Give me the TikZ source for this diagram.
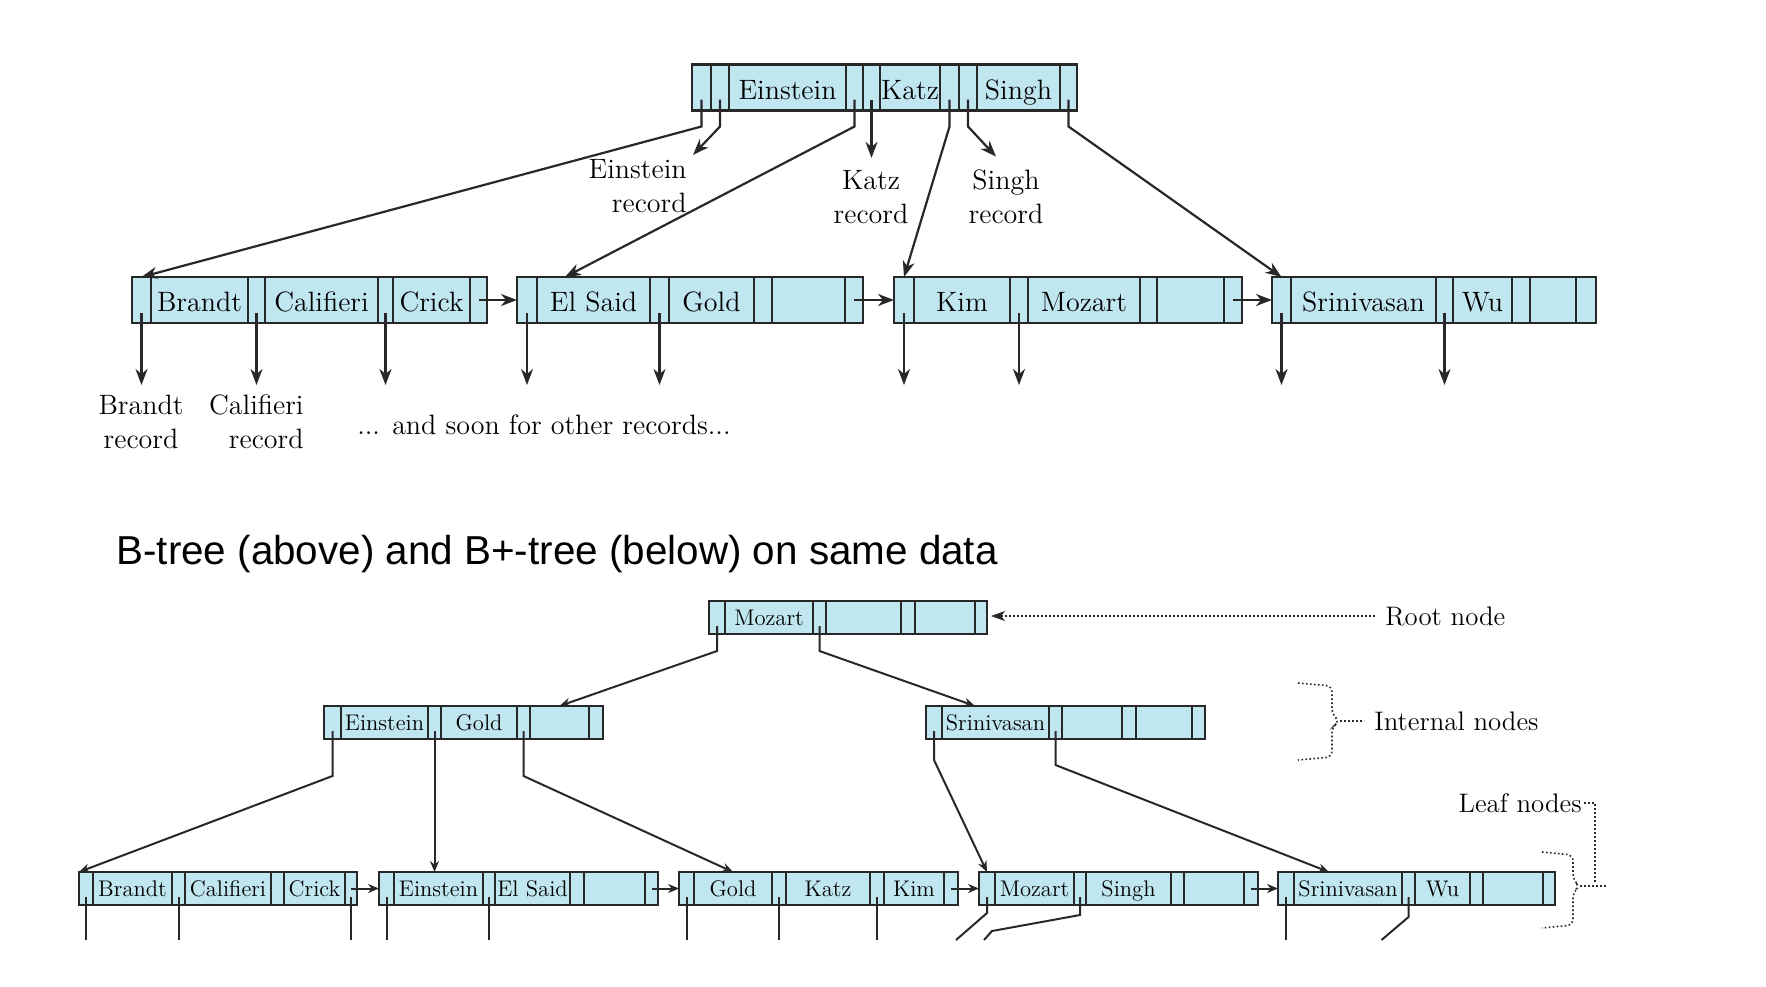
\documentclass[tikz,border=0pt]{standalone}
\usepackage{fontspec}
\newfontfamily\titlefont{Liberation Sans}
\usetikzlibrary{arrows.meta, positioning}
\definecolor{cellblue}{RGB}{192,230,240}
\definecolor{linegray}{RGB}{40,40,40}

\newcommand{\record}[4][]{%
  \coordinate (#2-0) at #3;
  \foreach \w/\t [count=\i, remember=\i as \j (initially 0)] in {#4}
    \node[cell, #1, minimum width=\w*0.5pt, right=0pt of #2-\j] (#2-\i) {\t};
}

\begin{document}
\begin{tikzpicture}[
  x=0.5pt, y=-0.5pt,
  cell/.style={draw=linegray, fill=cellblue, inner sep=0pt, outer sep=0pt, text depth=0pt},
  bigcell/.style={line width=1.1pt, minimum height=23pt, text height=11.9pt,
                  font=\fontsize{14}{17}\selectfont},
  smallcell/.style={line width=1pt, minimum height=16.5pt, text height=7.7pt,
                    font=\fontsize{11.3}{13}\selectfont},
  ptr/.style={-{Stealth[length=8pt, width=6pt, inset=2.5pt]}, line width=1.1pt, draw=linegray},
  sptr/.style={-{Stealth[length=5.5pt, width=4.5pt, inset=1.8pt]}, line width=1pt, draw=linegray},
  wire/.style={line width=1pt, draw=linegray},
  lbl/.style={font=\fontsize{14}{17}\selectfont, align=center, inner sep=0pt},
  note/.style={font=\fontsize{13.4}{16}\selectfont, inner sep=0pt},
  dots/.style={line width=0.8pt, dash pattern=on 0.8pt off 1.2pt, draw=linegray}
]
  \path[use as bounding box] (0,0) rectangle (1766,986);

  \record[bigcell]{tr}{(692,87.5)}{19/{},18/{},117/Einstein,17/{},17/{},60/Katz,19/{},18/{},83/Singh,17/{}}
  \record[bigcell]{ta}{(132,300)}{19/{},97/Brandt,17/{},113/Califieri,15/{},77/Crick,17/{}}
  \record[bigcell]{tb}{(517,300)}{20/{},113/El Said,19/{},85/Gold,18/{},73/{},18/{}}
  \record[bigcell]{tc}{(894,300)}{20/{},96/Kim,18/{},112/Mozart,17/{},67/{},18/{}}
  \record[bigcell]{td}{(1272,300)}{19/{},145/Srinivasan,17/{},59/Wu,18/{},46/{},20/{}}

  \node[lbl, align=right, anchor=east] (erec) at (687,186) {Einstein\\record};
  \node[lbl] (krec) at (871,197) {Katz\\record};
  \node[lbl] (srec) at (1006,197) {Singh\\record};
  \node[lbl] (brec) at (141,422) {Brandt\\record};
  \node[lbl, align=right, anchor=east] (crec) at (304,422) {Califieri\\record};
  \node[lbl] (other) at (544,425) {... and soon for other records...};

  \draw[ptr] ([yshift=5.5pt]tr-1.south) -- ++(0,27) -- (ta-1.north);
  \draw[ptr] ([yshift=5.5pt]tr-2.south) -- ++(0,27) -- ([shift={(3pt,2pt)}]erec.north east);
  \draw[ptr] ([yshift=5.5pt]tr-4.south) -- ++(0,27) -- ([xshift=14pt]tb-2.north west);
  \draw[ptr, shorten >=6pt] ([yshift=5.5pt]tr-5.south) -- (tr-5.south |- krec.north);
  \draw[ptr] ([yshift=5.5pt]tr-7.south) -- ++(0,27) -- (tc-1.north);
  \draw[ptr] ([yshift=5.5pt]tr-8.south) -- ++(0,27) -- ([shift={(-5pt,6.5pt)}]srec.north);
  \draw[ptr] ([yshift=5.5pt]tr-10.south) -- ++(0,27) -- (td-1.north);

  \foreach \c in {ta-1,ta-3,ta-5,tb-1,tb-3,tc-1,tc-3,td-1,td-3}
    \draw[ptr] ([yshift=5pt]\c.south) -- ++(0,72);
  \foreach \a/\b in {ta/tb,tb/tc,tc/td}  \draw[ptr] (\a-7.center) -- (\b-1.west);

  \node[anchor=west, inner sep=0pt, font=\titlefont\fontsize{20.2}{24}\selectfont] (title)
    at (116,554) {B-tree (above) and B+-tree (below) on same data};

  \record[smallcell]{br}{(709,617.5)}{16/{},88/Mozart,13/{},75/{},14/{},60/{},12/{}}
  \record[smallcell]{ba}{(324,722.5)}{17/{},87/Einstein,13/{},76/Gold,13/{},59/{},14/{}}
  \record[smallcell]{bb}{(926,722.5)}{16/{},107/Srinivasan,13/{},60/{},14/{},56/{},13/{}}
  \record[smallcell]{la}{(79,888.5)}{14/{},79/Brandt,13/{},86/Califieri,13/{},61/Crick,12/{}}
  \record[smallcell]{lb}{(379,888.5)}{15/{},89/Einstein,12/{},75/El Said,14/{},61/{},13/{}}
  \record[smallcell]{lc}{(679,888.5)}{15/{},78/Gold,14/{},84/Katz,14/{},60/Kim,14/{}}
  \record[smallcell]{ld}{(979,888.5)}{16/{},79/Mozart,12/{},85/Singh,13/{},60/{},14/{}}
  \record[smallcell]{le}{(1278,888.5)}{16/{},108/Srinivasan,13/{},55/Wu,13/{},60/{},12/{}}

  \draw[sptr] ([yshift=4pt]br-1.south) -- ++(0,25) -- (ba-6.north);
  \draw[sptr] ([yshift=4pt]br-3.south) -- ++(0,25) -- ([xshift=16.5pt]bb-2.north west);
  \draw[sptr] ([yshift=4pt]ba-1.south) -- ++(0,45) -- (la-1.north west);
  \draw[sptr] ([yshift=4pt]ba-3.south) -- (ba-3.south |- lb-2.north);
  \draw[sptr] ([yshift=4pt]ba-5.south) -- ++(0,45) -- (lc-2.north);
  \draw[sptr] ([yshift=4pt]bb-1.south) -- ++(0,29) -- (ld-1.north);
  \draw[sptr] ([yshift=4pt]bb-3.south) -- ++(0,34) -- ([xshift=17.5pt]le-2.north west);

  \foreach \a/\b in {la/lb,lb/lc,lc/ld,ld/le}  \draw[sptr] (\a-7.center) -- (\b-1.west);
  \foreach \c in {la-1,la-3,la-7,lb-1,lb-3,lc-1,lc-3,lc-5,le-1}
    \draw[wire] ([yshift=4pt]\c.south) -- ++(0,43);
  \draw[wire] ([yshift=4pt]ld-1.south) -- ++(0,16) -- ++(-31,27);
  \draw[wire] ([yshift=4pt]ld-3.south) -- ++(0,18) -- ++(-88,16) -- ++(-8,9);
  \draw[wire] ([yshift=4pt]le-3.south) -- ++(0,20) -- ++(-27,23);

  \node[note, anchor=west, inner xsep=5pt] (rootl) at (1375,616) {Root node};
  \draw[dots, -{Stealth[length=7pt, width=5pt, inset=2pt]}, shorten >=2pt]
    (rootl.west) -- (rootl.west -| br-7.east);

  \draw[dots, rounded corners=3pt] (1298,683) -- (1332,686) -- (1332,715) -- (1340,721)
    -- (1332,727) -- (1332,757) -- (1298,760);
  \coordinate (itip) at (1340,721);
  \node[note, anchor=west, inner xsep=5pt] (intl) at (1364,721) {Internal nodes};
  \draw[dots] (itip) -- (intl.west);

  \draw[dots, rounded corners=3pt] (1542,852) -- (1573,855) -- (1573,880) -- (1580,886)
    -- (1573,892) -- (1573,925) -- (1542,928);
  \coordinate (ltip) at (1580,886);
  \coordinate (lend) at (1607,886);
  \coordinate (ljoin) at (1595,883);
  \draw[dots] (ltip) -- (lend);
  \node[note, anchor=east, inner xsep=1pt] (leafl) at (1584,803) {Leaf nodes};
  \draw[dots] (leafl.east) -| (ljoin);
\end{tikzpicture}
\end{document}
